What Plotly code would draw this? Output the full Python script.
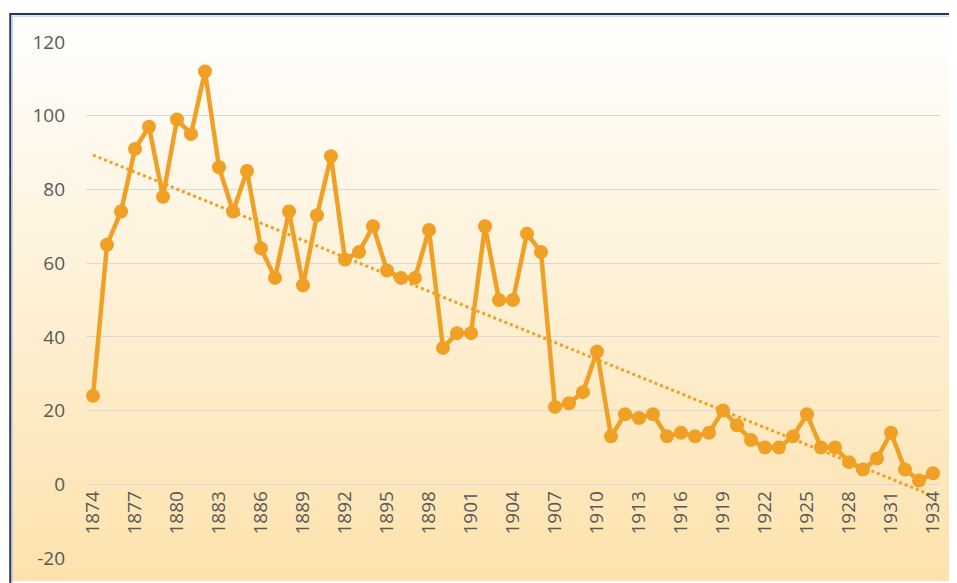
import numpy as np
import plotly.graph_objects as go

# yearly values
years = list(range(1874, 1935))
values = [24, 65, 74, 91, 97, 78, 99, 95, 112, 86,
          74, 85, 64, 56, 74, 54, 73, 89, 61, 63,
          70, 58, 56, 56, 69, 37, 41, 41, 70, 50,
          50, 68, 63, 21, 22, 25, 36, 13, 19, 18,
          19, 13, 14, 13, 14, 20, 16, 12, 10, 10,
          13, 19, 10, 10, 6, 4, 7, 14, 4, 1, 3]
tick_years = years[::3]
y_ticks = [-20, 0, 20, 40, 60, 80, 100, 120]

ORANGE = "#F0A025"
TEXT = "#595959"

# linear trendline, like Excel's
idx = np.arange(len(years))
slope, intercept = np.polyfit(idx, values, 1)
trend = slope * idx + intercept

fig = go.Figure()
fig.add_trace(go.Scatter(
    x=years, y=trend, mode="lines",
    line=dict(color=ORANGE, width=3, dash="dot"),
    hoverinfo="skip", showlegend=False,
))
fig.add_trace(go.Scatter(
    x=years, y=values, mode="lines+markers",
    line=dict(color=ORANGE, width=4.5),
    marker=dict(color=ORANGE, size=14),
    showlegend=False,
))

# background gradient (white at top -> pale orange at bottom), plus border
# (page has an 8px body margin, figure is sized to fit inside the window)
top_px, bot_px = 13, 583
plot_top, plot_bot = 42, 560
def paper_y(py):
    return (plot_bot - py) / (plot_bot - plot_top)

def paper_x(px):
    return (px - 86) / 857

shapes = []
n = 80
c0 = np.array([255, 255, 255])
c1 = np.array([253, 226, 172])
for i in range(n):
    a = top_px + (bot_px - top_px) * i / n
    b = top_px + (bot_px - top_px) * (i + 1) / n
    t = (i + 0.5) / n
    c = c0 + (c1 - c0) * t
    shapes.append(dict(
        type="rect", xref="paper", yref="paper", layer="below",
        x0=paper_x(9), x1=paper_x(960),
        y0=paper_y(b), y1=paper_y(a) + 0.002,
        line=dict(width=0),
        fillcolor="rgb(%d,%d,%d)" % tuple(c.round()),
    ))
shapes.append(dict(
    type="rect", xref="paper", yref="paper", layer="above",
    x0=paper_x(10), x1=paper_x(975),
    y0=paper_y(600), y1=paper_y(14),
    line=dict(color="#1F3864", width=2), fillcolor="rgba(0,0,0,0)",
))
shapes.append(dict(
    type="rect", xref="paper", yref="paper", layer="above",
    x0=paper_x(12), x1=paper_x(975),
    y0=paper_y(600), y1=paper_y(16),
    line=dict(color="#B4C7E7", width=1), fillcolor="rgba(0,0,0,0)",
))

fig.update_layout(
    width=949, height=575,
    margin=dict(l=78, r=14, t=34, b=23),
    paper_bgcolor="white",
    plot_bgcolor="rgba(0,0,0,0)",
    font=dict(family="Open Sans, Liberation Sans, sans-serif", color=TEXT),
    shapes=shapes,
    xaxis=dict(
        range=[1873.5, 1934.5],
        tickvals=tick_years,
        ticktext=[str(y) for y in tick_years],
        tickangle=-90,
        tickfont=dict(size=19, color=TEXT),
        showgrid=False, zeroline=False, showline=False, ticks="",
        anchor="free", position=20 / 140,
        ticklabelstandoff=2,
    ),
    yaxis=dict(
        range=[-20, 120],
        tickvals=y_ticks,
        ticktext=[str(v) for v in y_ticks],
        tickfont=dict(size=19, color=TEXT),
        gridcolor="#D9D9D9", gridwidth=1,
        zeroline=False, showline=False, ticks="",
        ticklabelstandoff=20,
    ),
)

fig.write_html("out.html")
